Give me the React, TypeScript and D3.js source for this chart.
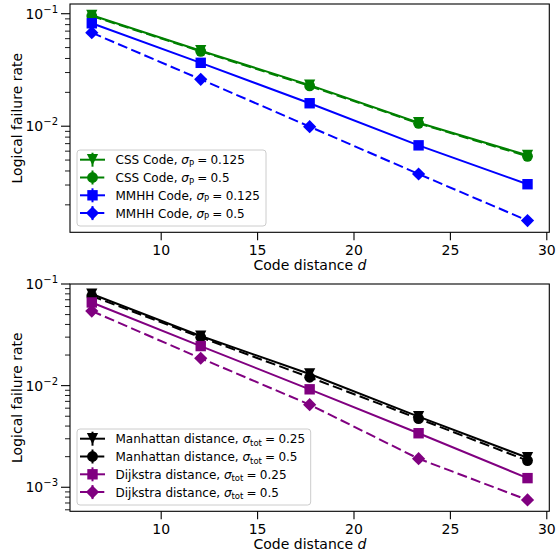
import React from "react";
import * as d3 from "d3";

const codeDistances = [6.4, 12.05, 17.7, 23.35, 29];
const xTicks = [10, 15, 20, 25, 30];

// top panel
const cssP0125 = [0.0968, 0.0469, 0.0232, 0.01074, 0.00551];
const cssP05 = [0.0955, 0.0463, 0.0228, 0.01060, 0.00540];
const mmhhP0125 = [0.0822, 0.0366, 0.0160, 0.00676, 0.00305];
const mmhhP05 = [0.0678, 0.0261, 0.00991, 0.00376, 0.00145];

// bottom panel
const manhattanT025 = [0.0797, 0.0308, 0.01303, 0.00496, 0.001954];
const manhattanT05 = [0.0762, 0.0299, 0.01208, 0.00473, 0.00183];
const dijkstraT025 = [0.0658, 0.0245, 0.0092, 0.0034, 0.00123];
const dijkstraT05 = [0.0542, 0.0186, 0.0065, 0.00191, 0.00075];

const topYDomain = [0.00114, 0.122];
const bottomYDomain = [0.00058, 0.1];

type Series = {
  values: number[];
  color: string;
  marker: "v" | "o" | "s" | "D";
  dashed: boolean;
  name: string;
  sym: string;
  sub: string;
  val: string;
};

const topSeries: Series[] = [
  { values: cssP0125, color: "#008000", marker: "v", dashed: false, name: "CSS Code, ", sym: "σ", sub: "P", val: "0.125" },
  { values: cssP05, color: "#008000", marker: "o", dashed: true, name: "CSS Code, ", sym: "σ", sub: "P", val: "0.5" },
  { values: mmhhP0125, color: "#0000ff", marker: "s", dashed: false, name: "MMHH Code, ", sym: "σ", sub: "P", val: "0.125" },
  { values: mmhhP05, color: "#0000ff", marker: "D", dashed: true, name: "MMHH Code, ", sym: "σ", sub: "P", val: "0.5" },
];

const bottomSeries: Series[] = [
  { values: manhattanT025, color: "#000000", marker: "v", dashed: false, name: "Manhattan distance, ", sym: "σ", sub: "tot", val: "0.25" },
  { values: manhattanT05, color: "#000000", marker: "o", dashed: true, name: "Manhattan distance, ", sym: "σ", sub: "tot", val: "0.5" },
  { values: dijkstraT025, color: "#800080", marker: "s", dashed: false, name: "Dijkstra distance, ", sym: "σ", sub: "tot", val: "0.25" },
  { values: dijkstraT05, color: "#800080", marker: "D", dashed: true, name: "Dijkstra distance, ", sym: "σ", sub: "tot", val: "0.5" },
];

const FONT = "DejaVu Sans, sans-serif";
const DASH = "10,4.3";

function Marker({ type, x, y, color }: { type: string; x: number; y: number; color: string }) {
  if (type === "v") {
    const h = 5.6;
    return <path d={`M${x - h},${y - h}L${x + h},${y - h}L${x},${y + h}Z`} fill={color} />;
  }
  if (type === "o") return <circle cx={x} cy={y} r={5.4} fill={color} />;
  if (type === "s") return <rect x={x - 5.2} y={y - 5.2} width={10.4} height={10.4} fill={color} />;
  const r = 6.6;
  return <path d={`M${x},${y - r}L${x + r},${y}L${x},${y + r}L${x - r},${y}Z`} fill={color} />;
}

function Panel({
  top, bottom, yDomain, series, legendW, legendBottom,
}: { top: number; bottom: number; yDomain: number[]; series: Series[]; legendW: number; legendBottom: number }) {
  const left = 70, right = 549.3;
  const x = d3.scaleLinear().domain([5.27, 30.13]).range([left, right]);
  const y = d3.scaleLog().domain(yDomain).range([bottom, top]);
  const lo = Math.floor(Math.log10(yDomain[0]));
  const hi = Math.ceil(Math.log10(yDomain[1]));
  const majors: number[] = [];
  const minors: number[] = [];
  for (let e = lo; e <= hi; e++) {
    for (let m = 1; m < 10; m++) {
      const v = m * Math.pow(10, e);
      if (v < yDomain[0] * 0.999 || v > yDomain[1] * 1.001) continue;
      if (m === 1) majors.push(v); else minors.push(v);
    }
  }
  const line = d3.line<number>().x((_, i) => x(codeDistances[i])).y((v) => y(v));
  const rowH = 17.8;
  const legTop = legendBottom - 76;
  const legLeft = 77;
  return (
    <g>
      {series.map((s, i) => (
        <g key={i}>
          <path d={line(s.values) || ""} fill="none" stroke={s.color} strokeWidth={2} strokeDasharray={s.dashed ? DASH : undefined} />
          {s.values.map((v, j) => (
            <Marker key={j} type={s.marker} x={x(codeDistances[j])} y={y(v)} color={s.color} />
          ))}
        </g>
      ))}
      <rect x={left} y={top} width={right - left} height={bottom - top} fill="none" stroke="#000" strokeWidth={1.1} />
      {xTicks.map((t) => (
        <g key={t}>
          <line x1={x(t)} x2={x(t)} y1={bottom} y2={bottom + 8} stroke="#000" strokeWidth={1.1} />
          <text x={x(t)} y={bottom + 22.5} textAnchor="middle" fontSize={14} fontFamily={FONT}>{t}</text>
        </g>
      ))}
      {majors.map((v) => (
        <g key={"M" + v}>
          <line x1={left - 9} x2={left} y1={y(v)} y2={y(v)} stroke="#000" strokeWidth={1.1} />
          <text x={left - 12} y={y(v) + 5} textAnchor="end" fontSize={14} fontFamily={FONT}>
            10<tspan dy={-6} fontSize={10}>{"−" + Math.abs(Math.round(Math.log10(v)))}</tspan>
          </text>
        </g>
      ))}
      {minors.map((v) => (
        <line key={"m" + v} x1={left - 5} x2={left} y1={y(v)} y2={y(v)} stroke="#000" strokeWidth={0.9} />
      ))}
      <text x={310} y={bottom + 37.5} textAnchor="middle" fontSize={14} fontFamily={FONT}>
        Code distance <tspan fontStyle="italic">d</tspan>
      </text>
      <text transform={`translate(22,${(top + bottom) / 2}) rotate(-90)`} textAnchor="middle" fontSize={14} fontFamily={FONT}>
        Logical failure rate
      </text>
      <rect x={legLeft} y={legTop} width={legendW} height={legendBottom - legTop} rx={3} fill="#fff" fillOpacity={0.8} stroke="#cccccc" strokeWidth={1} />
      {series.map((s, i) => {
        const cy = legTop + 9.7 + rowH * i;
        return (
          <g key={"l" + i}>
            <line x1={80} x2={105} y1={cy} y2={cy} stroke={s.color} strokeWidth={2} strokeDasharray={s.dashed ? "10,4.3" : undefined} />
            <line x1={92.5} x2={92.5} y1={cy - 7} y2={cy + 7} stroke={s.color} strokeWidth={2} />
            <Marker type={s.marker} x={92.5} y={cy} color={s.color} />
            <text x={115.5} y={cy + 4.4} fontSize={12} fontFamily={FONT}>
              {s.name}
              <tspan fontStyle="italic">{s.sym}</tspan>
              <tspan dy={2.6} fontSize={8.5}>{s.sub}</tspan>
              <tspan dy={-2.6} dx={3.2}>=</tspan>
              <tspan dx={3.2}>{s.val}</tspan>
            </text>
          </g>
        );
      })}
    </g>
  );
}

export default function App() {
  return (
    <svg width={558} height={555} style={{ position: "absolute", left: 0, top: 0, background: "#fff" }}>
      <rect width={558} height={555} fill="#fff" />
      <Panel top={4} bottom={232.3} yDomain={topYDomain} series={topSeries} legendW={189} legendBottom={226} />
      <Panel top={284} bottom={511.3} yDomain={bottomYDomain} series={bottomSeries} legendW={233.7} legendBottom={505} />
    </svg>
  );
}
